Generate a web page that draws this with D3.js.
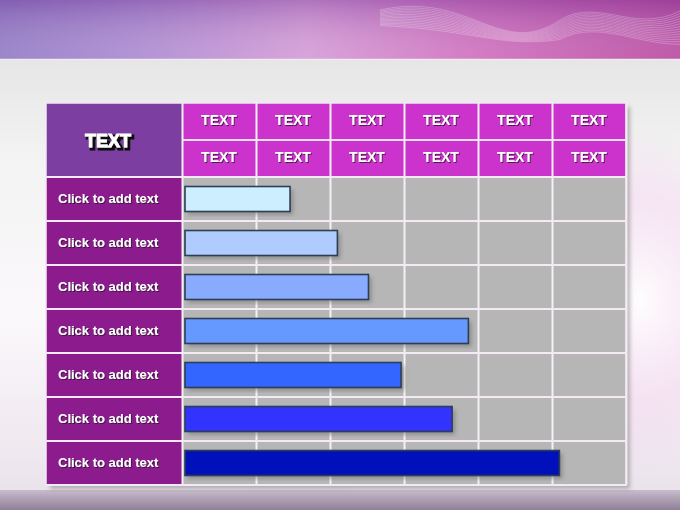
<!DOCTYPE html>
<html>
<head>
<meta charset="utf-8">
<script src="https://cdn.jsdelivr.net/npm/d3@7/dist/d3.min.js"></script>
<style>
html,body{margin:0;padding:0;background:#fff;}
svg{display:block;}
</style>
</head>
<body>
<svg id="chart" width="680" height="510"></svg>
<script>
// ---- data ----
const cornerLabel = "TEXT";
const headerRow1 = ["TEXT","TEXT","TEXT","TEXT","TEXT","TEXT"];
const headerRow2 = ["TEXT","TEXT","TEXT","TEXT","TEXT","TEXT"];
const rowLabels = ["Click to add text","Click to add text","Click to add text","Click to add text","Click to add text","Click to add text","Click to add text"];
const values = [1.46, 2.10, 2.52, 3.87, 2.96, 3.65, 5.10];
const barColors = ["#cceeff","#b0ccff","#88aaff","#6699ff","#3366ff","#3333ff","#0011bb"];
const axisMax = 6;

// ---- layout ----
const W = 680, H = 510;
const tableLeft = 46, gridLeft = 182, tableRight = 626;
const tableTop = 103, headerMid = 140, gridTop = 177, tableBottom = 485;

const svg = d3.select("#chart");
const defs = svg.append("defs");

// background gradients
const topGrad = defs.append("linearGradient").attr("id","topGrad").attr("x1","0").attr("x2","1").attr("y1","0").attr("y2","0");
[["0%","#8f78c4"],["20%","#a988d0"],["45%","#d49ad6"],["70%","#cf6cbc"],["100%","#b8479f"]]
  .forEach(([o,c])=>topGrad.append("stop").attr("offset",o).attr("stop-color",c));
const topShade = defs.append("linearGradient").attr("id","topShade").attr("x1","0").attr("x2","0").attr("y1","0").attr("y2","1");
topShade.append("stop").attr("offset","0%").attr("stop-color","#6a2f90").attr("stop-opacity",0.35);
topShade.append("stop").attr("offset","100%").attr("stop-color","#ffffff").attr("stop-opacity",0.1);

const panelGrad = defs.append("linearGradient").attr("id","panelGrad").attr("x1","0").attr("x2","0").attr("y1","0").attr("y2","1");
[["0%","#e6e6e6"],["25%","#f4f4f4"],["60%","#fbf8fb"],["100%","#ebe3ec"]]
  .forEach(([o,c])=>panelGrad.append("stop").attr("offset",o).attr("stop-color",c));
const glow = defs.append("radialGradient").attr("id","glow").attr("cx","0.5").attr("cy","0.5").attr("r","0.5");
glow.append("stop").attr("offset","0%").attr("stop-color","#ffffff").attr("stop-opacity",1);
glow.append("stop").attr("offset","60%").attr("stop-color","#f5d8f0").attr("stop-opacity",0.7);
glow.append("stop").attr("offset","100%").attr("stop-color","#f0d0ec").attr("stop-opacity",0);
const botGrad = defs.append("linearGradient").attr("id","botGrad").attr("x1","0").attr("x2","0").attr("y1","0").attr("y2","1");
botGrad.append("stop").attr("offset","0%").attr("stop-color","#c8bccc");
botGrad.append("stop").attr("offset","100%").attr("stop-color","#8f7f98");

const blur = defs.append("filter").attr("id","blur").attr("x","-10%").attr("y","-10%").attr("width","120%").attr("height","120%");
blur.append("feGaussianBlur").attr("stdDeviation",2);

// text shadow filters
const ts = defs.append("filter").attr("id","txtShadow").attr("x","-20%").attr("y","-30%").attr("width","140%").attr("height","160%");
ts.append("feDropShadow").attr("dx",1).attr("dy",1).attr("stdDeviation",0.3).attr("flood-color","#1a1a1a").attr("flood-opacity",0.75);
const tsBig = defs.append("filter").attr("id","txtShadowBig").attr("x","-20%").attr("y","-40%").attr("width","140%").attr("height","180%");
tsBig.append("feMorphology").attr("in","SourceAlpha").attr("operator","dilate").attr("radius",1).attr("result","dil");
tsBig.append("feOffset").attr("in","dil").attr("dx",2).attr("dy",2).attr("result","off");
tsBig.append("feFlood").attr("flood-color","#111").attr("result","col");
tsBig.append("feComposite").attr("in","col").attr("in2","off").attr("operator","in").attr("result","sh");
const mg = tsBig.append("feMerge");
mg.append("feMergeNode").attr("in","sh");
mg.append("feMergeNode").attr("in","SourceGraphic");

// top band
svg.append("rect").attr("x",0).attr("y",0).attr("width",W).attr("height",60).attr("fill","url(#topGrad)");
svg.append("rect").attr("x",0).attr("y",0).attr("width",W).attr("height",60).attr("fill","url(#topShade)");
const waveG = svg.append("g").attr("opacity",0.35);
d3.range(14).forEach(i=>{
  const off = i*3;
  const p = d3.path();
  p.moveTo(380, 10+off*0.4);
  p.bezierCurveTo(470, -10+off, 500, 60-off*0.3, 560, 20+off*0.5);
  p.bezierCurveTo(600, -5+off*0.6, 640, 40+off*0.2, 690, 5+off);
  waveG.append("path").attr("d",p.toString()).attr("fill","none").attr("stroke","#ffffff").attr("stroke-width",0.7);
});
svg.append("line").attr("x1",0).attr("x2",W).attr("y1",59.5).attr("y2",59.5).attr("stroke","#f4e8f4").attr("stroke-width",1.5);

// white panel
svg.append("rect").attr("x",0).attr("y",60).attr("width",W).attr("height",430).attr("fill","url(#panelGrad)");
svg.append("ellipse").attr("cx",640).attr("cy",300).attr("rx",120).attr("ry",170).attr("fill","url(#glow)").attr("opacity",0.8);
svg.append("ellipse").attr("cx",300).attr("cy",505).attr("rx",60).attr("ry",30).attr("fill","#e8e0f0").attr("opacity",0.6);
svg.append("rect").attr("x",0).attr("y",490).attr("width",W).attr("height",20).attr("fill","url(#botGrad)");

// ---- scales ----
const x = d3.scaleLinear().domain([0, axisMax]).range([gridLeft, tableRight]);
const colBand = d3.scaleBand().domain(d3.range(headerRow1.length)).range([gridLeft, tableRight]);
const rowBand = d3.scaleBand().domain(d3.range(rowLabels.length)).range([gridTop, tableBottom]);

// table shadow
svg.append("rect").attr("x",tableLeft+4).attr("y",tableTop+4).attr("width",tableRight-tableLeft).attr("height",tableBottom-tableTop)
  .attr("fill","#777").attr("opacity",0.5).attr("filter","url(#blur)");

svg.append("rect").attr("x",tableLeft).attr("y",tableTop).attr("width",gridLeft-tableLeft).attr("height",gridTop-tableTop).attr("fill","#7d3ea2");
svg.append("rect").attr("x",gridLeft).attr("y",tableTop).attr("width",tableRight-gridLeft).attr("height",gridTop-tableTop).attr("fill","#cc33cc");
svg.append("rect").attr("x",tableLeft).attr("y",gridTop).attr("width",gridLeft-tableLeft).attr("height",tableBottom-gridTop).attr("fill","#8c1c8e");
svg.append("rect").attr("x",gridLeft).attr("y",gridTop).attr("width",tableRight-gridLeft).attr("height",tableBottom-gridTop).attr("fill","#b6b6b6");

const xAxis = d3.axisBottom(x).ticks(axisMax).tickSize(-(tableBottom-tableTop)).tickFormat("");
const gx = svg.append("g").attr("transform",`translate(0,${tableBottom})`).call(xAxis);
gx.select(".domain").remove();
gx.selectAll(".tick line").attr("stroke","#f4f0f4").attr("stroke-width",2);

const rowEdges = rowBand.domain().map(d=>rowBand(d)).concat([tableBottom]);
svg.append("g").selectAll("line").data(rowEdges).join("line")
  .attr("x1",tableLeft).attr("x2",tableRight).attr("y1",d=>d).attr("y2",d=>d)
  .attr("stroke","#f4eaf4").attr("stroke-width",2);
svg.append("line").attr("x1",gridLeft).attr("x2",tableRight).attr("y1",headerMid).attr("y2",headerMid).attr("stroke","#f4e0f4").attr("stroke-width",2);
svg.append("rect").attr("x",tableLeft).attr("y",tableTop).attr("width",tableRight-tableLeft).attr("height",tableBottom-tableTop)
  .attr("fill","none").attr("stroke","#f2e8f2").attr("stroke-width",1.5);

// ---- bars ----
const barH = 25;
const barsG = svg.append("g");
barsG.selectAll("rect.shadow").data(values).join("rect").attr("class","shadow")
  .attr("x",x(0)+6).attr("y",(d,i)=>rowBand(i)+rowBand.bandwidth()/2-barH/2+3)
  .attr("width",d=>x(d)-x(0)-3).attr("height",barH)
  .attr("fill","#6a6a6a").attr("opacity",0.55).attr("filter","url(#blur)");
barsG.selectAll("rect.bar").data(values).join("rect").attr("class","bar")
  .attr("x",x(0)+3).attr("y",(d,i)=>rowBand(i)+rowBand.bandwidth()/2-barH/2)
  .attr("width",d=>x(d)-x(0)-3).attr("height",barH)
  .attr("fill",(d,i)=>barColors[i]).attr("stroke","#2e3f55").attr("stroke-width",1.6);

// ---- text ----
function label(g, txt, tx, ty, size, anchor, filt, stroke){
  g.append("text").attr("x",tx).attr("y",ty).attr("text-anchor",anchor)
    .attr("dominant-baseline","central").attr("font-family","'Liberation Sans', Arial, sans-serif")
    .attr("font-weight","bold").attr("font-size",size).attr("fill","#fff")
    .attr("stroke","#fff").attr("stroke-width",stroke||0)
    .attr("filter",`url(#${filt})`).text(txt);
}
const tg = svg.append("g");
label(tg, cornerLabel, (tableLeft+gridLeft)/2-6, (tableTop+gridTop)/2+1, 18, "middle", "txtShadowBig", 0.8);
headerRow1.forEach((t,i)=>label(tg, t, colBand(i)+colBand.bandwidth()/2, (tableTop+headerMid)/2-1.5, 14, "middle", "txtShadow"));
headerRow2.forEach((t,i)=>label(tg, t, colBand(i)+colBand.bandwidth()/2, (headerMid+gridTop)/2-2, 14, "middle", "txtShadow"));
rowLabels.forEach((t,i)=>label(tg, t, 58, rowBand(i)+rowBand.bandwidth()/2-0.5, 13, "start", "txtShadow"));
</script>
</body>
</html>
